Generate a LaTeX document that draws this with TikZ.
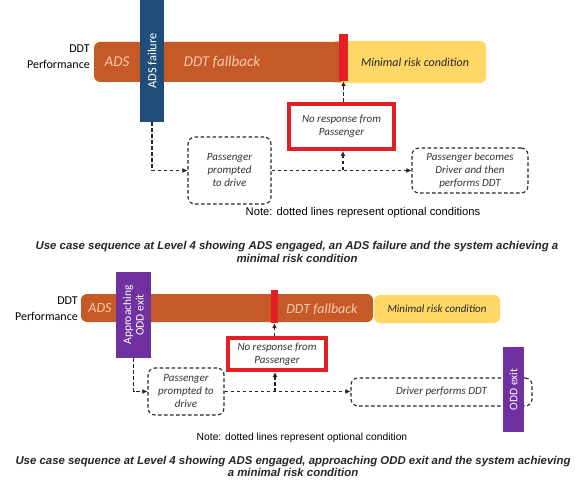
\documentclass[tikz,border=0pt]{standalone}
\usepackage{fontspec}
\setmainfont{Carlito}
\newfontfamily\arialf{Liberation Sans}
\usetikzlibrary{arrows.meta}
\definecolor{barorange}{HTML}{C55A28}
\definecolor{baryellow}{HTML}{FED766}
\definecolor{barblue}{HTML}{1F4E79}
\definecolor{barpurple}{HTML}{7030A0}
\definecolor{barred}{HTML}{E31E24}
\definecolor{paletext}{HTML}{F8CBAD}
\definecolor{boxtext}{HTML}{333333}
\begin{document}
\begin{tikzpicture}[x=1pt,y=-1pt,
  bar/.style={rectangle, inner sep=0pt, draw=none, rounded corners=6pt},
  flat/.style={rectangle, inner sep=0pt, draw=none},
  bartext/.style={font=\fontsize{15}{15}\selectfont\itshape, text=paletext, inner sep=0pt},
  vtext/.style={rotate=90, text=white, inner sep=0pt, align=center},
  optbox/.style={rectangle, draw=black!85, dashed, dash pattern=on 3.5pt off 2.5pt, line width=1.1pt, rounded corners=7pt, inner sep=0pt, align=center, text=boxtext, font=\fontsize{11}{13}\selectfont\itshape},
  redbox/.style={rectangle, draw=barred, line width=4pt, inner sep=0pt, align=center, text=boxtext, font=\fontsize{11}{13}\selectfont\itshape},
  optline/.style={dashed, dash pattern=on 3.5pt off 2.5pt, line width=1.1pt, draw=black!85},
  optarrow/.style={optline, -{Latex[length=5pt,width=5pt]}},
  lbl/.style={align=right, anchor=east, inner sep=0pt, font=\fontsize{12}{16}\selectfont},
  note/.style={inner sep=0pt, font=\arialf\fontsize{11.2}{13}\selectfont},
  caption/.style={inner sep=0pt, align=center, font=\arialf\bfseries\itshape\fontsize{11.4}{12.8}\selectfont, text=black!85}
]
\useasboundingbox (0,0) rectangle (578,481);
\fill[white] (0,0) rectangle (578,481);

% ---------------- top diagram ----------------
\node[lbl] (perf1) at (90,57) {DDT\\Performance};
\node[bar, fill=baryellow, minimum width=156pt, minimum height=42pt] (mrc1) at (408,62) {};
\node[bar, fill=barorange, minimum width=251pt, minimum height=40pt] (ddt1) at (219.5,62) {};
\node[flat, fill=barred, minimum width=9pt, minimum height=47pt] (rb1) at (343.5,57.5) {};
\node[flat, fill=barblue, minimum width=24pt, minimum height=122pt] (fail1) at (152,61) {};
\node[bartext] (ads1) at (117,62) {ADS};
\node[bartext] (fb1) at (222,62) {DDT fallback};
\node[inner sep=0pt, font=\fontsize{12}{12}\selectfont\itshape, text=black!85] (mrct1) at (415,62) {Minimal risk condition};
\node[vtext, font=\fontsize{12.5}{12.5}\selectfont] (failt1) at (152,61) {ADS failure};

\node[redbox, minimum width=105pt, minimum height=45pt] (nr1) at (341.5,126.5) {No response from\\Passenger};
\node[optbox, minimum width=83pt, minimum height=67pt] (pp1) at (229.5,170.5) {Passenger\\prompted\\to drive};
\node[optbox, minimum width=116pt, minimum height=45pt] (pb1) at (470,170.5) {Passenger becomes\\Driver and then\\performs DDT};
\coordinate (j1) at (343,170.5);

\draw[optarrow] (fail1.south) |- (pp1.west);
\draw[optarrow] (pp1.east) -- (pb1.west);
\draw[optarrow] (j1) -- (j1 |- nr1.south);
\draw[optarrow] (nr1.north -| rb1.south) -- (rb1.south);

\node[note] (note1) at (363,213) {Note: dotted lines represent optional conditions};
\node[caption] (cap1) at (297,252) {Use case sequence at Level 4 showing ADS engaged, an ADS failure and the system achieving a\\minimal risk condition};

% ---------------- bottom diagram ----------------
\node[lbl] (perf2) at (78,309) {DDT\\Performance};
\node[bar, fill=baryellow, minimum width=126pt, minimum height=28pt] (mrc2) at (437,309) {};
\node[bar, fill=barorange, minimum width=292pt, minimum height=28pt] (ddt2) at (227,308) {};
\node[flat, fill=barred, minimum width=7pt, minimum height=33pt] (rb2) at (274.5,306.5) {};
\node[flat, fill=barpurple, minimum width=35pt, minimum height=86pt] (app2) at (133.5,315) {};
\node[bartext, font=\fontsize{14}{14}\selectfont\itshape] (ads2) at (100,308) {ADS};
\node[bartext, font=\fontsize{14}{14}\selectfont\itshape] (fb2) at (322,309) {DDT fallback};
\node[inner sep=0pt, font=\fontsize{11}{11}\selectfont\itshape, text=black!85] (mrct2) at (437,309) {Minimal risk condition};
\node[vtext, font=\fontsize{11.5}{12.5}\selectfont] (appt2) at (133.5,315) {Approaching\\ODD exit};

\node[redbox, minimum width=98pt, minimum height=32pt] (nr2) at (277,354) {No response from\\Passenger};
\node[optbox, minimum width=76pt, minimum height=47pt] (pp2) at (186,391.5) {Passenger\\prompted to\\drive};
\node[optbox, minimum width=181pt, minimum height=28pt] (dp2) at (441.5,392) {Driver performs DDT};
\node[flat, fill=barpurple, minimum width=21pt, minimum height=85pt] (odd2) at (513.5,389.5) {};
\node[vtext, font=\fontsize{11.5}{11.5}\selectfont] (oddt2) at (513.5,389.5) {ODD exit};
\coordinate (j2) at (275,391.5);

\draw[optarrow] (app2.south) |- (pp2.west);
\draw[optarrow] (pp2.east) -- (pp2.east -| dp2.west);
\draw[optarrow] (j2) -- (j2 |- nr2.south);
\draw[optarrow] (nr2.north -| rb2.south) -- (rb2.south);

\node[note, font=\arialf\fontsize{10.3}{12}\selectfont] (note2) at (302,438) {Note: dotted lines represent optional condition};
\node[caption] (cap2) at (293,466.5) {Use case sequence at Level 4 showing ADS engaged, approaching ODD exit and the system achieving\\a minimal risk condition};
\end{tikzpicture}
\end{document}
